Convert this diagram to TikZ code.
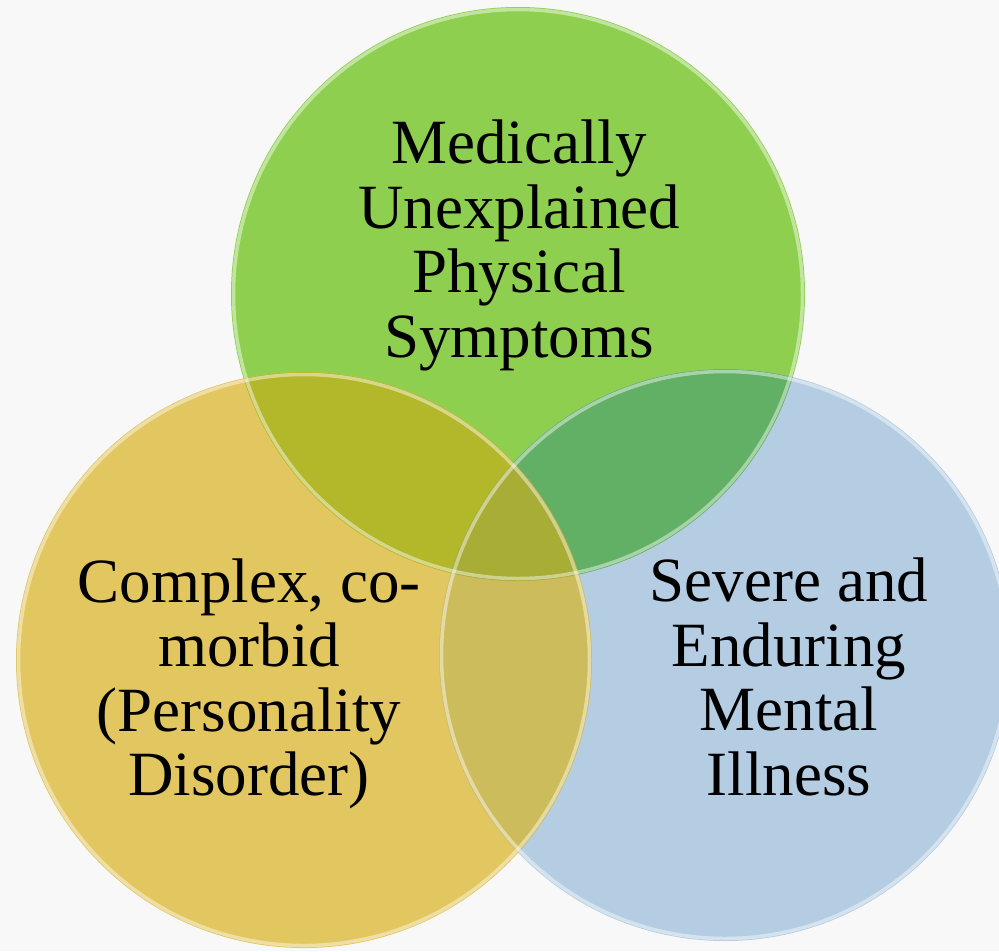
\documentclass[tikz,border=0pt]{standalone}
\usepackage{fontspec}
\setmainfont{Liberation Serif}
\begin{document}
\definecolor{bgc}{RGB}{248,248,248}
\definecolor{cgreen}{RGB}{143,207,79}
\definecolor{cyellow}{RGB}{226,198,96}
\definecolor{cblue}{RGB}{180,205,226}
\definecolor{cgy}{RGB}{179,183,42}
\definecolor{cgb}{RGB}{98,176,101}
\definecolor{cyb}{RGB}{205,188,92}
\definecolor{cgyb}{RGB}{168,173,54}
\begin{tikzpicture}[x=1pt,y=-1pt,
  label/.style={align=center,font=\fontsize{63}{64.5}\selectfont,text=black,inner sep=0pt},
  rim/.style={draw=white,draw opacity=0.45,line width=3.5pt}]
\useasboundingbox (0,0) rectangle (999,951);
\clip (0,0) rectangle (999,951);
\fill[bgc] (0,0) rectangle (999,951);

\def\rG{287pt}\def\rY{288pt}\def\rB{286pt}
\coordinate (cG) at (518,294);
\coordinate (cY) at (304,660);
\coordinate (cB) at (725,655);

% single sets
\fill[cgreen]  (cG) circle[radius=\rG];
\fill[cyellow] (cY) circle[radius=\rY];
\fill[cblue]   (cB) circle[radius=\rB];

% pairwise overlaps
\begin{scope}
  \clip (cG) circle[radius=\rG];
  \fill[cgy] (cY) circle[radius=\rY];
  \fill[cgb] (cB) circle[radius=\rB];
\end{scope}
\begin{scope}
  \clip (cY) circle[radius=\rY];
  \fill[cyb] (cB) circle[radius=\rB];
\end{scope}
% common region
\begin{scope}
  \clip (cG) circle[radius=\rG];
  \clip (cY) circle[radius=\rY];
  \fill[cgyb] (cB) circle[radius=\rB];
\end{scope}

% light rims along each edge
\draw[rim] (cG) circle[radius=\rG-2.5pt];
\draw[rim] (cY) circle[radius=\rY-2.5pt];
\draw[rim] (cB) circle[radius=\rB-2.5pt];

% labels
\node[label] (tG) at (519,245.5) {Medically\\Unexplained\\Physical\\Symptoms};
\node[label] (tY) at (249,684) {Complex, co-\\morbid\\(Personality\\Disorder)};
\node[label] (tB) at (789,677) {Severe and\\Enduring\\Mental\\Illness};
\end{tikzpicture}
\end{document}
